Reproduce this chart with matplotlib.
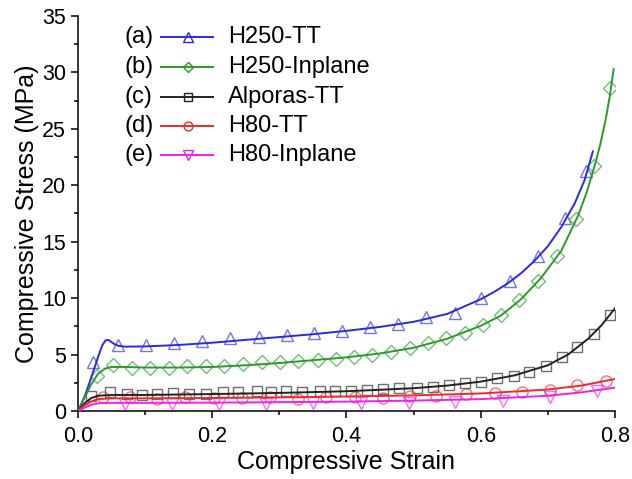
# stress-strain curves for the honeycomb and Alporas samples

import numpy as np
import matplotlib.pyplot as plt

plt.rcParams['font.family'] = ['Liberation Sans', 'DejaVu Sans']

# fitted curves (strain, stress in MPa)
h250tt_fit_x = [0, 0.01, 0.02, 0.03, 0.036, 0.041, 0.045, 0.05, 0.055, 0.06, 0.07, 0.1, 0.15, 0.2,
                0.25, 0.3, 0.35, 0.4, 0.45, 0.5, 0.55, 0.6, 0.62, 0.64, 0.66, 0.68, 0.7, 0.72,
                0.74, 0.755, 0.767]
h250tt_fit_y = [0, 1.3, 3.0, 4.8, 5.8, 6.25, 6.3, 6.1, 5.9, 5.78, 5.7, 5.72, 5.85, 6.05,
                6.3, 6.55, 6.8, 7.1, 7.45, 7.9, 8.6, 9.9, 10.55, 11.3, 12.2, 13.3, 14.6, 16.3,
                18.4, 20.5, 23.0]

h250in_fit_x = [0, 0.01, 0.02, 0.03, 0.04, 0.05, 0.07, 0.1, 0.15, 0.2, 0.25, 0.3, 0.35, 0.4,
                0.45, 0.5, 0.55, 0.6, 0.63, 0.66, 0.69, 0.72, 0.745, 0.758, 0.77, 0.778, 0.786,
                0.792, 0.798]
h250in_fit_y = [0, 1.2, 2.4, 3.3, 3.75, 3.9, 3.9, 3.85, 3.85, 3.9, 4.05, 4.25, 4.5, 4.75,
                5.1, 5.6, 6.4, 7.55, 8.45, 9.9, 11.8, 14.2, 17.3, 19.4, 21.8, 23.6, 25.8,
                27.8, 30.3]

alporas_fit_x = [0, 0.01, 0.02, 0.03, 0.05, 0.1, 0.2, 0.3, 0.4, 0.45, 0.5, 0.55, 0.6, 0.65,
                 0.7, 0.73, 0.76, 0.78, 0.8]
alporas_fit_y = [0, 0.7, 1.15, 1.35, 1.42, 1.42, 1.5, 1.6, 1.75, 1.88, 2.02, 2.25, 2.6, 3.15,
                 4.05, 5.0, 6.4, 7.6, 9.1]

h80tt_fit_x = [0, 0.01, 0.02, 0.03, 0.05, 0.1, 0.2, 0.3, 0.4, 0.5, 0.6, 0.7, 0.75, 0.8]
h80tt_fit_y = [0, 0.5, 0.85, 1.05, 1.12, 1.12, 1.15, 1.2, 1.28, 1.38, 1.55, 1.9, 2.25, 2.83]

h80in_fit_x = [0, 0.01, 0.02, 0.03, 0.05, 0.1, 0.2, 0.3, 0.4, 0.5, 0.6, 0.7, 0.75, 0.8]
h80in_fit_y = [0, 0.3, 0.55, 0.68, 0.72, 0.72, 0.74, 0.78, 0.83, 0.92, 1.05, 1.35, 1.65, 2.07]

# measured points
h250tt_x = [0.023, 0.059, 0.101, 0.143, 0.185, 0.226, 0.27, 0.311, 0.352, 0.394, 0.435, 0.477,
            0.518, 0.562, 0.601, 0.644, 0.686, 0.726, 0.757]
h250tt_y = [4.3, 5.85, 5.85, 6.05, 6.23, 6.44, 6.55, 6.75, 6.95, 7.1, 7.45, 7.75,
            8.3, 8.7, 10.0, 11.5, 13.7, 17.1, 21.3]

h250in_x = [0.028, 0.052, 0.081, 0.107, 0.136, 0.163, 0.191, 0.218, 0.246, 0.274, 0.301, 0.328,
            0.357, 0.384, 0.411, 0.438, 0.466, 0.494, 0.521, 0.548, 0.576, 0.603, 0.630, 0.657,
            0.685, 0.714, 0.742, 0.769, 0.793]
h250in_y = [3.1, 4.1, 3.8, 3.8, 3.85, 3.95, 3.95, 4.0, 4.15, 4.3, 4.3, 4.45,
            4.5, 4.6, 4.75, 4.95, 5.25, 5.55, 6.0, 6.45, 6.95, 7.6, 8.5, 9.8,
            11.5, 13.7, 17.0, 21.7, 28.6]

alporas_x = [0.020, 0.048, 0.073, 0.095, 0.118, 0.142, 0.166, 0.191, 0.216, 0.239, 0.266, 0.288,
             0.31, 0.334, 0.36, 0.383, 0.407, 0.43, 0.454, 0.478, 0.505, 0.529, 0.553, 0.577,
             0.600, 0.624, 0.649, 0.672, 0.697, 0.721, 0.744, 0.769, 0.793]
alporas_y = [1.36, 1.65, 1.47, 1.42, 1.47, 1.56, 1.47, 1.47, 1.65, 1.65, 1.75, 1.7,
             1.75, 1.7, 1.75, 1.8, 1.75, 1.85, 1.95, 2.0, 2.05, 2.15, 2.3, 2.45,
             2.6, 2.9, 3.13, 3.48, 4.0, 4.75, 5.64, 6.82, 8.5]

h80tt_x = [0.037, 0.077, 0.118, 0.159, 0.203, 0.244, 0.286, 0.328, 0.370, 0.412, 0.454, 0.495,
           0.534, 0.578, 0.621, 0.662, 0.703, 0.744, 0.787]
h80tt_y = [1.27, 1.21, 1.1, 1.2, 1.15, 1.15, 1.25, 1.1, 1.2, 1.25, 1.15, 1.3,
           1.3, 1.5, 1.62, 1.71, 1.86, 2.3, 2.69]

h80in_x = [0.07, 0.14, 0.21, 0.28, 0.35, 0.421, 0.493, 0.562, 0.633, 0.703, 0.773]
h80in_y = [0.6, 0.62, 0.65, 0.65, 0.7, 0.72, 0.75, 0.82, 0.9, 1.27, 1.8]

tags = ['(a)', '(b)', '(c)', '(d)', '(e)']
names = ['H250-TT', 'H250-Inplane', 'Alporas-TT', 'H80-TT', 'H80-Inplane']
colors = ['#2a2ae0', '#2a9a2a', '#222222', '#f02828', '#f020f0']
markers = ['^', 'D', 's', 'o', 'v']
msizes = [8.5, 7, 6.5, 8, 8.5]

fits = [(h250tt_fit_x, h250tt_fit_y), (h250in_fit_x, h250in_fit_y),
        (alporas_fit_x, alporas_fit_y), (h80tt_fit_x, h80tt_fit_y),
        (h80in_fit_x, h80in_fit_y)]
points = [(h250tt_x, h250tt_y), (h250in_x, h250in_y), (alporas_x, alporas_y),
          (h80tt_x, h80tt_y), (h80in_x, h80in_y)]

fig = plt.figure(figsize=(6.32, 4.79), dpi=100)
ax = fig.add_axes([0.1234, 0.142, 0.8497, 0.8246])

for (fx, fy), (px, py), c, m, ms in zip(fits, points, colors, markers, msizes):
    ax.plot(fx, fy, '-', color=c, lw=1.4, zorder=3, solid_joinstyle='round')
    ax.plot(px, py, linestyle='none', marker=m, ms=ms, mfc='none', mec=c,
            mew=1.0, alpha=0.65, zorder=2)

# legend drawn by hand so the (a)-(e) tags sit in front of the handles
row_y = [0.9476, 0.8716, 0.7957, 0.7215, 0.6481]
for tag, name, c, m, ms, y in zip(tags, names, colors, markers, msizes, row_y):
    ax.text(0.0875, y, tag, transform=ax.transAxes, fontsize=17, va='center', ha='left')
    ax.plot([0.154, 0.252], [y, y], color=c, lw=1.4, transform=ax.transAxes, clip_on=False)
    ax.plot([0.204], [y], marker=m, ms=ms * 0.8, mfc='none', mec=c, mew=1.0,
            transform=ax.transAxes, clip_on=False)
    ax.text(0.279, y, name, transform=ax.transAxes, fontsize=17, va='center', ha='left')

ax.set_xlim(0, 0.8)
ax.set_ylim(0, 35)
ax.set_xticks(np.arange(0, 0.81, 0.2))
ax.set_xticks(np.arange(0.1, 0.8, 0.2), minor=True)
ax.set_yticks(np.arange(0, 36, 5))
ax.set_yticks(np.arange(2.5, 35, 5), minor=True)
ax.set_xticklabels(['0.0', '0.2', '0.4', '0.6', '0.8'])

for side in ['top', 'right']:
    ax.spines[side].set_visible(False)
for side in ['left', 'bottom']:
    ax.spines[side].set_linewidth(1.1)

ax.tick_params(which='major', direction='out', length=5, width=1.1, labelsize=15.5)
ax.tick_params(axis='x', which='major', pad=6)
ax.tick_params(which='minor', direction='out', length=3, width=1.1)

ax.set_xlabel('Compressive Strain', fontsize=18, labelpad=2)
ax.set_ylabel('Compressive Stress (MPa)', fontsize=18, labelpad=2)

fig.savefig('out.png', dpi=100)
